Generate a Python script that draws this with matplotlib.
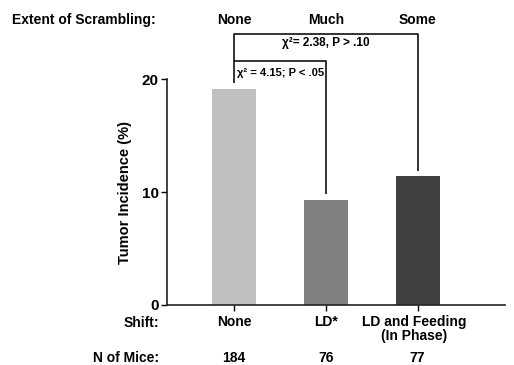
import matplotlib
matplotlib.use("Agg")
import matplotlib.pyplot as plt
import matplotlib.transforms as mtransforms
import numpy as np

# data
shift_labels = ["None", "LD*", "LD and Feeding\n(In Phase)"]
scrambling = ["None", "Much", "Some"]
n_mice = ["184", "76", "77"]
incidence = [19.1, 9.3, 11.4]
bar_colors = ["#c0c0c0", "#808080", "#404040"]

plt.rcParams["font.family"] = ["Liberation Sans", "DejaVu Sans"]
plt.rcParams["font.weight"] = "bold"

fig = plt.figure(figsize=(5.14, 3.65), dpi=100)
ax = fig.add_axes([0.325, 0.1644, 0.657, 0.619])

x = np.arange(len(incidence))
ax.bar(x, incidence, width=0.48, color=bar_colors, zorder=2)

ax.set_xlim(-0.73, 2.95)
ax.set_ylim(0, 20)
ax.set_yticks([0, 10, 20])
ax.set_yticklabels(["0", "10", "20"], fontsize=11, fontweight="bold")
ax.set_xticks(x)
ax.set_xticklabels([])
ax.tick_params(axis="y", direction="out", length=4, width=1, pad=2)
ax.tick_params(axis="x", direction="out", length=4, width=1)
for s in ["top", "right"]:
    ax.spines[s].set_visible(False)
for s in ["left", "bottom"]:
    ax.spines[s].set_linewidth(1.2)
    ax.spines[s].set_color("#222222")

ax.set_ylabel("Tumor Incidence (%)", fontsize=10.5, fontweight="bold", labelpad=7)

# row labels above and below the axes
tr = mtransforms.blended_transform_factory(ax.transData, fig.transFigure)
fs = 10
fig.text(0.023, 0.945, "Extent of Scrambling:", fontsize=fs, fontweight="bold",
         ha="left", va="center")
fig.text(0.31, 0.115, "Shift:", fontsize=fs, fontweight="bold", ha="right", va="center")
fig.text(0.31, 0.019, "N of Mice:", fontsize=fs, fontweight="bold", ha="right", va="center")
for i in range(len(x)):
    ax.text(x[i], 0.945, scrambling[i], transform=tr, fontsize=fs, fontweight="bold",
            ha="center", va="center")
    ax.text(x[i] - (0.04 if i == 2 else 0), 0.137, shift_labels[i], transform=tr,
            fontsize=fs, fontweight="bold", ha="center", va="top", linespacing=1.0)
    ax.text(x[i], 0.019, n_mice[i], transform=tr, fontsize=fs, fontweight="bold",
            ha="center", va="center")

# significance brackets
lk = dict(color="#111111", lw=1.2, clip_on=False, solid_capstyle="butt")
y_inner = 21.6
y_outer = 24.0
ax.plot([x[0], x[0], x[1], x[1]],
        [incidence[0] + 0.55, y_inner, y_inner, incidence[1] + 0.55], **lk)
ax.plot([x[0], x[0], x[2], x[2]],
        [y_inner, y_outer, y_outer, incidence[2] + 0.5], **lk)
ax.text(x[0] + 0.03, 20.55, "χ² = 4.15; P < .05", fontsize=8, fontweight="bold",
        ha="left", va="center")
ax.text((x[0] + x[2]) / 2, 23.2, "χ²= 2.38, P > .10", fontsize=8.5, fontweight="bold",
        ha="center", va="center")

fig.savefig("out.png", dpi=100)
